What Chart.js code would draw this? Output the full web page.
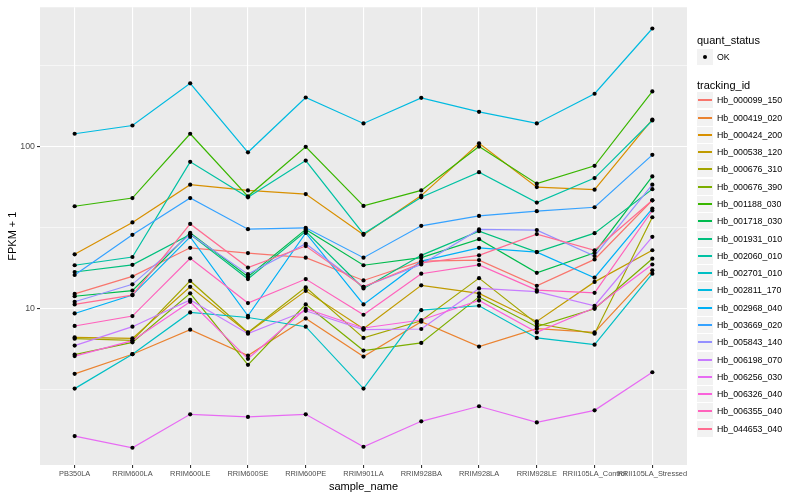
<!DOCTYPE html>
<html>
<head>
<meta charset="utf-8">
<script src="https://cdn.jsdelivr.net/npm/chart.js@4.4.1/dist/chart.umd.min.js"></script>
<style>
body { margin: 0; background: #fff; font-family: "Liberation Sans", Arial, sans-serif; }
#wrap { position: relative; width: 800px; height: 500px; }
#legend { position: absolute; left: 697px; top: 0; width: 103px; height: 500px; }
.ttl { position: absolute; left: 0; font-size: 11px; line-height: 14px; color: #000; white-space: nowrap; }
.row { position: absolute; left: 0; width: 103px; height: 17px; }
.key { position: absolute; left: 0; top: 0; width: 16px; height: 16px; background: #F2F2F2; }
.key i { position: absolute; left: 1px; width: 14px; top: 7px; height: 2px; }
.key b { position: absolute; left: 6px; top: 6px; width: 4px; height: 4px; border-radius: 2px; background: #000; }
.lab { position: absolute; left: 20px; top: 0; line-height: 17px; font-size: 8.8px; color: #000; white-space: nowrap; }
</style>
</head>
<body>
<div id="wrap">
  <canvas id="chart" width="800" height="500"></canvas>
  <div id="legend"></div>
</div>
<script>
const sampleNames = ["PB350LA", "RRIM600LA", "RRIM600LE", "RRIM600SE", "RRIM600PE", "RRIM901LA",
    "RRIM928BA", "RRIM928LA", "RRIM928LE", "RRII105LA_Control", "RRII105LA_Stressed"];

// FPKM + 1, one array per tracking_id, in sampleNames order
const hb_000099_150 = [12.3, 15.8, 23.7, 22.0, 20.6, 14.9, 19.6, 19.9, 13.8, 20.1, 46.6];
const hb_000419_020 = [3.95, 5.22, 7.40, 5.12, 8.68, 5.05, 8.28, 5.82, 7.50, 7.12, 17.2];
const hb_000424_200 = [21.6, 34.0, 58.2, 53.6, 50.9, 28.5, 49.8, 104.8, 56.2, 54.2, 147];
const hb_000538_120 = [6.63, 6.54, 13.6, 7.09, 12.85, 7.50, 13.9, 12.4, 8.32, 14.6, 22.9];
const hb_000676_310 = [6.51, 6.36, 14.8, 7.12, 13.5, 6.58, 8.40, 15.4, 8.05, 6.99, 36.6];
const hb_000676_390 = [5.19, 6.18, 12.4, 4.49, 10.6, 5.50, 6.13, 11.8, 7.72, 9.96, 20.3];
const hb_001188_030 = [42.8, 48.1, 120, 49.3, 99.6, 43.0, 53.6, 100, 59.0, 76.1, 219];
const hb_001718_030 = [11.9, 12.9, 29.3, 15.7, 30.8, 18.5, 20.6, 26.8, 16.6, 22.1, 65.4];
const hb_001931_010 = [16.8, 18.6, 28.7, 15.2, 30.0, 13.3, 21.3, 30.0, 22.3, 29.2, 54.6];
const hb_002060_010 = [18.5, 20.8, 80.5, 48.6, 82.0, 28.9, 48.6, 69.5, 45.1, 63.9, 145];
const hb_002701_010 = [3.20, 5.22, 9.45, 8.80, 7.72, 3.20, 9.77, 10.4, 6.58, 5.98, 16.4];
const hb_002811_170 = [120, 135, 246, 92.2, 201, 139, 200, 164, 139, 212, 536];
const hb_002968_040 = [9.32, 12.1, 27.7, 9.02, 29.3, 10.6, 19.6, 23.7, 22.3, 15.5, 41.4];
const hb_003669_020 = [16.1, 28.5, 48.1, 30.9, 31.5, 20.6, 32.4, 37.3, 39.9, 42.2, 88.9];
const hb_005843_140 = [11.0, 14.1, 28.7, 16.3, 25.1, 13.6, 18.7, 30.8, 30.5, 21.1, 58.2];
const hb_006198_070 = [5.90, 7.72, 11.3, 6.99, 9.68, 7.40, 7.47, 13.3, 12.7, 10.4, 27.7];
const hb_006256_030 = [1.63, 1.38, 2.22, 2.14, 2.22, 1.40, 2.01, 2.49, 1.98, 2.35, 4.04];
const hb_006326_040 = [5.08, 6.33, 11.0, 4.89, 9.96, 7.58, 8.49, 11.2, 7.12, 10.1, 18.7];
const hb_006355_040 = [7.80, 8.98, 20.4, 10.8, 15.2, 9.15, 16.4, 18.6, 13.0, 12.5, 40.3];
const hb_044653_040 = [10.6, 12.1, 33.3, 17.9, 24.3, 13.6, 19.1, 21.3, 28.8, 22.9, 46.6];

const trackingIds = ["Hb_000099_150", "Hb_000419_020", "Hb_000424_200", "Hb_000538_120", "Hb_000676_310",
    "Hb_000676_390", "Hb_001188_030", "Hb_001718_030", "Hb_001931_010", "Hb_002060_010",
    "Hb_002701_010", "Hb_002811_170", "Hb_002968_040", "Hb_003669_020", "Hb_005843_140",
    "Hb_006198_070", "Hb_006256_030", "Hb_006326_040", "Hb_006355_040", "Hb_044653_040"];
const seriesValues = [hb_000099_150, hb_000419_020, hb_000424_200, hb_000538_120, hb_000676_310,
    hb_000676_390, hb_001188_030, hb_001718_030, hb_001931_010, hb_002060_010,
    hb_002701_010, hb_002811_170, hb_002968_040, hb_003669_020, hb_005843_140,
    hb_006198_070, hb_006256_030, hb_006326_040, hb_006355_040, hb_044653_040];

const yLabels = [10, 100];
const yGrid = [3.1623, 10, 31.623, 100, 316.23];

const colors = ["#F8766D", "#EA8331", "#D89000", "#C09B00", "#A3A500", "#7CAE00", "#39B600", "#00BB4E",
    "#00BF7D", "#00C1A3", "#00BFC4", "#00BAE0", "#00B0F6", "#35A2FF", "#9590FF", "#C77CFF",
    "#E76BF3", "#FA62DB", "#FF62BC", "#FF6C91"];
const fontFamily = '"Liberation Sans", Arial, sans-serif';

const toPoints = vals => vals.map((v, i) => ({ x: i, y: v }));

const datasets = seriesValues.map((vals, i) => ({
    label: trackingIds[i],
    data: toPoints(vals),
    borderColor: colors[i],
    borderWidth: 1.2,
    pointRadius: 0,
    fill: false,
    tension: 0,
    order: -i
}));
// quant_status = OK points, drawn over every line
datasets.push({
    type: "scatter",
    label: "OK",
    data: seriesValues.flatMap(toPoints),
    backgroundColor: "#000",
    borderWidth: 0,
    pointRadius: 2.1,
    order: -100
});

const panelBg = {
    id: "panelBg",
    beforeDraw(chart) {
        const { ctx, chartArea: a } = chart;
        ctx.save();
        ctx.fillStyle = "#EBEBEB";
        ctx.fillRect(a.left, a.top, a.right - a.left, a.bottom - a.top);
        ctx.restore();
    }
};

new Chart(document.getElementById("chart").getContext("2d"), {
    type: "line",
    data: { datasets: datasets },
    plugins: [panelBg],
    options: {
        responsive: false,
        animation: false,
        layout: { padding: { left: 0, right: 113, top: 5, bottom: 0 } },
        plugins: { legend: { display: false }, tooltip: { enabled: false } },
        scales: {
            x: {
                type: "linear",
                min: -0.6,
                max: 10.6,
                afterBuildTicks: scale => { scale.ticks = sampleNames.map((n, i) => ({ value: i })); },
                afterFit: scale => { scale.height = 35; },
                ticks: {
                    autoSkip: false,
                    maxRotation: 0,
                    minRotation: 0,
                    padding: 2,
                    color: "#4D4D4D",
                    font: { family: fontFamily, size: 7.4 },
                    callback: v => sampleNames[v] ?? ""
                },
                grid: { color: "#FFFFFF", lineWidth: 1.1, tickLength: 3, tickColor: "#333333" },
                border: { display: false },
                title: {
                    display: true, text: "sample_name", color: "#000",
                    font: { family: fontFamily, size: 11 }, padding: { top: 0, bottom: 6 }
                }
            },
            y: {
                type: "logarithmic",
                min: 1.08,
                max: 725,
                afterBuildTicks: scale => { scale.ticks = yGrid.map(v => ({ value: v })); },
                afterFit: scale => { scale.width = 40; },
                ticks: {
                    padding: 2,
                    color: "#4D4D4D",
                    font: { family: fontFamily, size: 8.8 },
                    callback: v => yLabels.includes(v) ? String(v) : ""
                },
                grid: {
                    color: "#FFFFFF",
                    lineWidth: c => (c.tick && yLabels.includes(c.tick.value)) ? 1.1 : 0.55,
                    tickLength: 3,
                    tickColor: c => (c.tick && yLabels.includes(c.tick.value)) ? "#333333" : "rgba(0,0,0,0)"
                },
                border: { display: false },
                title: {
                    display: true, text: "FPKM + 1", color: "#000",
                    font: { family: fontFamily, size: 11 }, padding: { top: 6, bottom: 0 }
                }
            }
        }
    }
});

// legend, ggplot style
const legend = document.getElementById("legend");
const rowH = 17.28;
let html = '<div class="ttl" style="top:33px">quant_status</div>';
html += '<div class="row" style="top:49px"><div class="key"><b></b></div><div class="lab">OK</div></div>';
html += '<div class="ttl" style="top:78px">tracking_id</div>';
trackingIds.forEach((id, i) => {
    const top = Math.round(101 - rowH / 2 + i * rowH);
    html += '<div class="row" style="top:' + top + 'px"><div class="key"><i style="background:' + colors[i] + '"></i></div>' +
        '<div class="lab">' + id + '</div></div>';
});
legend.innerHTML = html;
</script>
</body>
</html>
